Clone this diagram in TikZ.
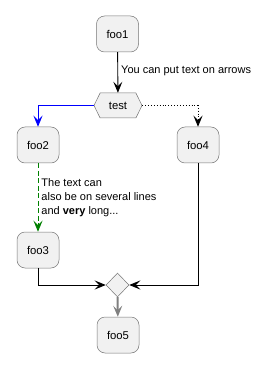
\documentclass[tikz,border=0pt]{standalone}
\usepackage{fontspec}
\setmainfont{Liberation Sans}
\definecolor{BoxFill}{HTML}{F1F1F1}
\definecolor{BoxLine}{HTML}{181818}
\definecolor{FlowBlue}{RGB}{0,0,255}
\definecolor{FlowGreen}{RGB}{0,128,0}
\definecolor{FlowGray}{RGB}{128,128,128}
\usetikzlibrary{arrows.meta,positioning,calc,shapes.geometric,shapes.symbols}

\begin{document}
\begin{tikzpicture}[x=1pt,y=-1pt,
  action/.style={draw=BoxLine!60,fill=BoxFill,rounded corners=8pt,line width=0.5pt,
    minimum width=42pt,minimum height=36pt,inner sep=0pt,font=\fontsize{11.3}{13}\selectfont},
  choice/.style={draw=BoxLine!60,fill=BoxFill,signal,signal to=west and east,signal pointer angle=128,
    line width=0.5pt,minimum width=48pt,minimum height=25pt,inner xsep=6pt,inner ysep=0pt,
    font=\fontsize{11.3}{13}\selectfont},
  merge/.style={draw=BoxLine!60,fill=BoxFill,diamond,line width=0.5pt,minimum width=23pt,
    minimum height=24pt,inner sep=0pt},
  flow/.style={line width=0.9pt,-{Stealth[length=11pt,width=9pt,inset=4.5pt]}},
  note/.style={font=\fontsize{11}{14}\selectfont,align=left,inner sep=3pt}]
\useasboundingbox (0,0) rectangle (272,371);
% activities
\node[action] (foo1) at (117.5,34) {foo1};
\node[choice] (test) at (118,105.5) {test};
\node[action] (foo2) at (38,145) {foo2};
\node[action] (foo4) at (198,145) {foo4};
\node[action] (foo3) at (38,250) {foo3};
\node[merge] (join) at (117.5,285) {};
\node[action] (foo5) at (118,335) {foo5};
% arrows
\draw[flow] (foo1) -- node[note,right,pos=0.45]{You can put text on arrows} (test);
\draw[flow,FlowBlue] (test.west) -| (foo2.north);
\draw[flow,dotted] (test.east) -| (foo4.north);
\draw[flow,FlowGreen,dash pattern=on 5pt off 2.5pt] (foo2) -- node[note,right,text=black]
  {The text can\\also be on several lines\\and \textbf{very} long...} (foo3);
\draw[flow] (foo3.south) |- (join.west);
\draw[flow] (foo4.south) |- (join.east);
\draw[flow,FlowGray,line width=2pt,-{Stealth[length=11pt,width=9pt,inset=4.5pt]}] (join) -- (foo5);
\end{tikzpicture}
\end{document}
